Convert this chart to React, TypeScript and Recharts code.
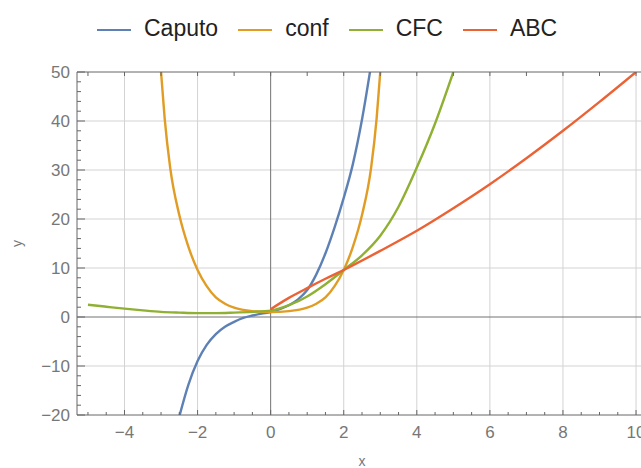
import React from 'react';
import { LineChart, Line, XAxis, YAxis, ReferenceLine, Legend } from 'recharts';

const caputoX = [-2.5, -2.25, -2, -1.75, -1.5, -1.25, -1, -0.75, -0.5, -0.25, 0, 0.25, 0.5, 0.75, 1, 1.25, 1.5, 1.75, 2, 2.25, 2.5, 2.75];
const caputoY = [-20.3, -13.8, -9.0, -5.7, -3.5, -2.0, -1.0, -0.2, 0.3, 0.7, 1.0, 1.6, 2.4, 3.6, 5.5, 8.7, 13.0, 18.3, 24.3, 31.2, 40.3, 51.5];

const confX = [-3, -2.9, -2.75, -2.5, -2.25, -2, -1.75, -1.5, -1.25, -1, -0.5, 0, 0.5, 1, 1.25, 1.5, 1.75, 2, 2.25, 2.5, 2.75, 2.9, 3];
const confY = [50, 40.5, 30.5, 20.8, 14.3, 9.6, 6.3, 4.0, 2.7, 1.9, 1.2, 1.0, 1.2, 1.9, 2.7, 4.0, 6.3, 9.6, 14.3, 20.8, 30.5, 40.5, 50];

const cfcX = [-5, -4.5, -4, -3.5, -3, -2.5, -2, -1.5, -1, -0.5, 0, 0.5, 1, 1.5, 2, 2.5, 3, 3.5, 4, 4.5, 5];
const cfcY = [2.5, 2.1, 1.7, 1.35, 1.05, 0.9, 0.8, 0.8, 0.9, 1.05, 1.3, 2.4, 4.2, 6.7, 9.6, 12.6, 16.6, 22.5, 30.5, 39.5, 50];

const abcX = [0, 0.5, 1, 1.5, 2, 3, 4, 5, 6, 7, 8, 9, 10];
const abcY = [1.6, 3.9, 5.9, 7.8, 9.6, 13.5, 17.6, 22.2, 27.1, 32.4, 38.0, 43.9, 50];

const seriesNames = ['Caputo', 'conf', 'CFC', 'ABC'];
const seriesColors = ['#5E81B5', '#E19C24', '#8FB032', '#EB6235'];

const xDomain = [-5.3, 10.3];
const yDomain = [-20, 50];
const bottomTicks = [-5, -4.5, -4, -3.5, -3, -2.5, -2, -1.5, -1, -0.5, 0, 0.5, 1, 1.5, 2, 2.5, 3, 3.5, 4, 4.5, 5, 5.5, 6, 6.5, 7, 7.5, 8, 8.5, 9, 9.5, 10];
const topTicks = [-5, -4, -3, -2, -1, 0, 1, 2, 3, 4, 5, 6, 7, 8, 9, 10];
const leftTicks = [-20, -18, -16, -14, -12, -10, -8, -6, -4, -2, 0, 2, 4, 6, 8, 10, 12, 14, 16, 18, 20, 22, 24, 26, 28, 30, 32, 34, 36, 38, 40, 42, 44, 46, 48, 50];
const gridX = [-4, -2, 2, 4, 6, 8, 10];
const gridY = [-10, 10, 20, 30, 40];

const FRAME = '#666666';
const GRID = '#d3d3d3';
const AXIS0 = '#737373';
const LABEL = '#777777';
const FONT = '"Liberation Sans", Arial, sans-serif';

const toPoints = (xs: number[], ys: number[]) => xs.map((x, i) => ({ x, y: ys[i] }));
const curves = [
  toPoints(caputoX, caputoY),
  toPoints(confX, confY),
  toPoints(cfcX, cfcY),
  toPoints(abcX, abcY),
];

const fmt = (v: number) => (v < 0 ? '\u2212' + Math.abs(v) : String(v));

const BottomTick = (props: any) => {
  const { x, y, payload } = props;
  const v = payload.value;
  const major = Math.abs(v % 2) < 1e-9;
  return (
    <g>
      <line x1={x} x2={x} y1={y} y2={y - (major ? 5 : 3)} stroke={FRAME} />
      {major && (
        <text x={x} y={y + 23} textAnchor="middle" fontSize={17} fontFamily={FONT} fill={LABEL}>
          {fmt(v)}
        </text>
      )}
    </g>
  );
};

const TopTick = (props: any) => {
  const { x, y } = props;
  return <line x1={x} x2={x} y1={y} y2={y + 4} stroke={FRAME} />;
};

const LeftTick = (props: any) => {
  const { x, y, payload } = props;
  const v = payload.value;
  const major = Math.abs(v % 10) < 1e-9;
  return (
    <g>
      <line x1={x} x2={x + (major ? 8 : 4)} y1={y} y2={y} stroke={FRAME} />
      {major && (
        <text x={x - 7} y={y} dy="0.35em" textAnchor="end" fontSize={17} fontFamily={FONT} fill={LABEL}>
          {fmt(v)}
        </text>
      )}
    </g>
  );
};

const renderLegend = () => (
  <div style={{ display: 'flex', alignItems: 'center', paddingLeft: 97, fontFamily: FONT, fontSize: 23, color: '#222' }}>
    {seriesNames.map((name, i) => (
      <div key={name} style={{ display: 'flex', alignItems: 'center', marginRight: 20 }}>
        <div style={{ width: 34, height: 2.5, background: seriesColors[i], marginRight: 13, marginTop: 3 }} />
        <span>{name}</span>
      </div>
    ))}
  </div>
);

export default function App() {
  return (
    <div style={{ position: 'absolute', left: 0, top: 0, width: 641, height: 468, overflow: 'hidden', background: '#fff' }}>
      <LineChart width={680} height={468} margin={{ top: 71, left: 76, right: 33, bottom: 52 }}>
        <XAxis
          type="number"
          dataKey="x"
          domain={xDomain}
          allowDataOverflow
          ticks={bottomTicks}
          interval={0}
          height={1}
          tickSize={0}
          tickMargin={0}
          tick={<BottomTick />}
          axisLine={{ stroke: FRAME }}
          label={{
            content: (p: any) => (
              <text x={p.viewBox.x + p.viewBox.width / 2} y={p.viewBox.y + 51} textAnchor="middle" fontSize={14} fontFamily={FONT} fill={LABEL}>
                x
              </text>
            ),
          }}
        />
        <XAxis
          xAxisId="top"
          orientation="top"
          type="number"
          dataKey="x"
          domain={xDomain}
          allowDataOverflow
          ticks={topTicks}
          interval={0}
          height={1}
          tickSize={0}
          tickMargin={0}
          tick={<TopTick />}
          axisLine={{ stroke: FRAME }}
        />
        <YAxis
          type="number"
          domain={yDomain}
          allowDataOverflow
          ticks={leftTicks}
          interval={0}
          width={1}
          tickSize={0}
          tickMargin={0}
          tick={<LeftTick />}
          axisLine={{ stroke: FRAME }}
          label={{
            content: (p: any) => {
              const cx = p.viewBox.x - 58;
              const cy = p.viewBox.y + p.viewBox.height / 2;
              return (
                <text x={cx} y={cy} transform={`rotate(-90 ${cx} ${cy})`} textAnchor="middle" dy="0.3em" fontSize={14} fontFamily={FONT} fill={LABEL}>
                  y
                </text>
              );
            },
          }}
        />

        {gridX.map((v) => (
          <ReferenceLine key={'gx' + v} x={v} stroke={GRID} strokeWidth={1} />
        ))}
        {gridY.map((v) => (
          <ReferenceLine key={'gy' + v} y={v} stroke={GRID} strokeWidth={1} />
        ))}
        <ReferenceLine x={0} stroke={AXIS0} strokeWidth={1} />
        <ReferenceLine y={0} stroke={AXIS0} strokeWidth={1} />

        {curves.map((pts, i) => (
          <Line
            key={seriesNames[i]}
            name={seriesNames[i]}
            data={pts}
            dataKey="y"
            type="monotone"
            stroke={seriesColors[i]}
            strokeWidth={2.4}
            dot={false}
            activeDot={false}
            isAnimationActive={false}
          />
        ))}

        <Legend content={renderLegend} wrapperStyle={{ top: 15, left: 0, width: 641, height: 0, overflow: 'visible' }} />
      </LineChart>
    </div>
  );
}
